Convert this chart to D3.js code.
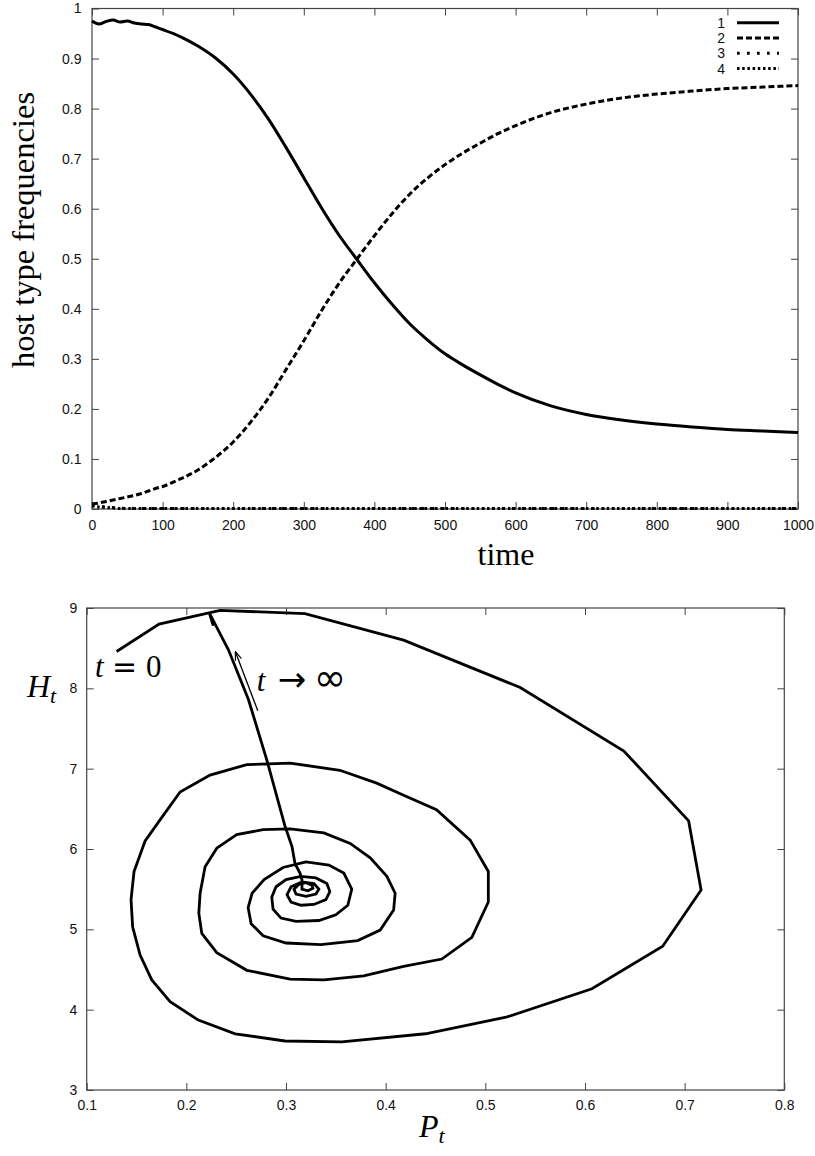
<!DOCTYPE html>
<html>
<head>
<meta charset="utf-8">
<title>host type frequencies</title>
<style>
  body { margin: 0; background: #fff; }
  svg { display: block; }
  .tick text { font: 14px "Liberation Sans", Arial, sans-serif; fill: #111; }
  .tick line { stroke: #444; stroke-width: 1; }
  .domain { display: none; }
  .frame { fill: none; stroke: #444; stroke-width: 1.2; }
  .title { font-family: "Liberation Serif", "Times New Roman", serif; fill: #000; }
  .sym { font-family: "DejaVu Sans", sans-serif; font-weight: normal; }
  .legend { font: 14px "Liberation Sans", Arial, sans-serif; fill: #111; }
  .curve { fill: none; stroke: #000; stroke-width: 3; stroke-linejoin: miter; }
</style>
</head>
<body>
<script src="https://cdn.jsdelivr.net/npm/d3@7"></script>
<script>
// ---- top panel: host type frequencies over time ----
var times = [0, 10, 20, 30, 40, 50, 60, 70, 80, 90, 100, 125, 150, 175, 200, 225, 250, 275,
             300, 325, 350, 375, 400, 425, 450, 475, 500, 525, 550, 575, 600, 650, 700, 750,
             800, 850, 900, 950, 1000];
var type1 = [0.975, 0.969, 0.974, 0.977, 0.973, 0.975, 0.971, 0.969, 0.968, 0.963, 0.958, 0.944,
             0.925, 0.901, 0.869, 0.828, 0.779, 0.722, 0.662, 0.602, 0.547, 0.499, 0.452, 0.409,
             0.370, 0.338, 0.310, 0.288, 0.268, 0.249, 0.232, 0.206, 0.189, 0.178, 0.170, 0.164,
             0.159, 0.156, 0.153];
var type2 = [0.010, 0.012, 0.015, 0.018, 0.021, 0.024, 0.027, 0.031, 0.036, 0.041, 0.045, 0.060,
             0.078, 0.103, 0.134, 0.174, 0.222, 0.279, 0.336, 0.396, 0.451, 0.499, 0.546, 0.590,
             0.629, 0.661, 0.688, 0.711, 0.731, 0.750, 0.766, 0.792, 0.809, 0.821, 0.829, 0.835,
             0.840, 0.843, 0.846];
var type3 = [0.008, 0.006, 0.004, 0.003, 0.002, 0.001, 0.001, 0.001, 0.001, 0.001, 0.001, 0.001,
             0.001, 0.001, 0.001, 0.001, 0.001, 0.001, 0.001, 0.001, 0.001, 0.001, 0.001, 0.001,
             0.001, 0.001, 0.001, 0.001, 0.001, 0.001, 0.001, 0.001, 0.001, 0.001, 0.001, 0.001,
             0.001, 0.001, 0.001];
var type4 = [0.006, 0.004, 0.003, 0.002, 0.001, 0.001, 0.001, 0.001, 0.001, 0.001, 0.001, 0.001,
             0.001, 0.001, 0.001, 0.001, 0.001, 0.001, 0.001, 0.001, 0.001, 0.001, 0.001, 0.001,
             0.001, 0.001, 0.001, 0.001, 0.001, 0.001, 0.001, 0.001, 0.001, 0.001, 0.001, 0.001,
             0.001, 0.001, 0.001];
var typeNames = ["1", "2", "3", "4"];
var timeTicks = [0, 100, 200, 300, 400, 500, 600, 700, 800, 900, 1000];
var freqTicks = [0, 0.1, 0.2, 0.3, 0.4, 0.5, 0.6, 0.7, 0.8, 0.9, 1];

// ---- bottom panel: host / parasite phase plane ----
var parasite = [0.130, 0.1726, 0.2338, 0.319, 0.418, 0.535, 0.639, 0.704, 0.7165, 0.678, 0.607,
  0.522, 0.440, 0.356, 0.299, 0.249, 0.212, 0.1837, 0.1653, 0.1536, 0.1461, 0.1445, 0.1475,
  0.1586, 0.1752, 0.1937, 0.2238, 0.2606, 0.304, 0.354, 0.391, 0.418, 0.451, 0.4848, 0.503,
  0.503, 0.4865, 0.4564, 0.418, 0.378, 0.338, 0.304, 0.2607, 0.2305, 0.2155, 0.2125, 0.2138,
  0.2188, 0.2305, 0.2505, 0.277, 0.304, 0.338, 0.3644, 0.3845, 0.4012, 0.4095, 0.408, 0.3945,
  0.372, 0.335, 0.300, 0.277, 0.265, 0.262, 0.266, 0.278, 0.297,
  0.320, 0.343, 0.358, 0.366, 0.362, 0.350, 0.333, 0.310,
  0.295, 0.287, 0.2857, 0.290, 0.300, 0.315, 0.330, 0.341, 0.344, 0.340, 0.328, 0.315,
  0.305, 0.301, 0.305, 0.316, 0.328, 0.333, 0.330, 0.320,
  0.310, 0.308, 0.313, 0.320, 0.326, 0.327, 0.322, 0.316, 0.316,
  0.316, 0.314, 0.309, 0.306, 0.2991, 0.2807, 0.2623, 0.2422, 0.2238, 0.2270, 0.2230];
var host = [8.458, 8.80, 8.97, 8.93, 8.60, 8.01, 7.22, 6.35, 5.49, 4.79, 4.26,
  3.91, 3.70, 3.60, 3.61, 3.70, 3.87, 4.10, 4.37, 4.68, 5.03, 5.37, 5.72,
  6.10, 6.39, 6.71, 6.92, 7.05, 7.07, 6.98, 6.82, 6.67, 6.49, 6.11, 5.72,
  5.34, 4.90, 4.63, 4.54, 4.42, 4.37, 4.38, 4.49, 4.71, 4.95, 5.20, 5.45,
  5.78, 6.01, 6.18, 6.24, 6.25, 6.20, 6.07, 5.89, 5.66, 5.45, 5.24, 4.99,
  4.86, 4.81, 4.83, 4.92, 5.07, 5.27, 5.45, 5.62, 5.77,
  5.84, 5.80, 5.70, 5.50, 5.30, 5.18, 5.11, 5.10,
  5.14, 5.25, 5.40, 5.53, 5.62, 5.66, 5.64, 5.57, 5.47, 5.37, 5.31, 5.30,
  5.34, 5.43, 5.53, 5.59, 5.57, 5.50, 5.44, 5.41,
  5.44, 5.50, 5.56, 5.58, 5.55, 5.51, 5.48, 5.50, 5.55,
  5.62, 5.70, 5.82, 6.03, 6.28, 7.11, 7.86, 8.48, 8.92, 8.78, 8.94];
var pTicks = [0.1, 0.2, 0.3, 0.4, 0.5, 0.6, 0.7, 0.8];
var hTicks = [3, 4, 5, 6, 7, 8, 9];
// arrow next to the escaping branch, from / to in (P, H)
var arrowFrom = [0.2717, 7.72], arrowTo = [0.2494, 8.45];

var svg = d3.select("body").append("svg")
    .attr("width", 815)
    .attr("height", 1156);

svg.append("defs").append("marker")
    .attr("id", "head")
    .attr("viewBox", "0 0 10 10")
    .attr("refX", 9).attr("refY", 5)
    .attr("markerWidth", 9).attr("markerHeight", 9)
    .attr("markerUnits", "userSpaceOnUse")
    .attr("orient", "auto")
  .append("path")
    .attr("d", "M0,1.5 L10,5 L0,8.5")
    .attr("fill", "none")
    .attr("stroke", "#000")
    .attr("stroke-width", 1.3);

// inward ticks on all four sides, the gnuplot way
function frameAxes(g, x, y, xt, yt, padX, padY) {
  var x0 = x.range()[0], x1 = x.range()[1], y0 = y.range()[0], y1 = y.range()[1];
  g.append("g").attr("transform", "translate(0," + y0 + ")")
    .call(d3.axisBottom(x).tickValues(xt).tickSize(-7).tickPadding(padX).tickFormat(String));
  g.append("g").attr("transform", "translate(0," + y1 + ")")
    .call(d3.axisTop(x).tickValues(xt).tickSize(-7).tickFormat(""));
  g.append("g").attr("transform", "translate(" + x0 + ",0)")
    .call(d3.axisLeft(y).tickValues(yt).tickSize(-7).tickPadding(padY).tickFormat(String));
  g.append("g").attr("transform", "translate(" + x1 + ",0)")
    .call(d3.axisRight(y).tickValues(yt).tickSize(-7).tickFormat(""));
  g.append("rect").attr("class", "frame")
    .attr("x", x0).attr("y", y1)
    .attr("width", x1 - x0).attr("height", y0 - y1);
}

// ---------- top ----------
var xt = d3.scaleLinear().domain([0, 1000]).range([92, 798]);
var yt = d3.scaleLinear().domain([0, 1]).range([509, 8.5]);
var upper = svg.append("g");
frameAxes(upper, xt, yt, timeTicks, freqTicks, 11, 10.5);

var dashes = [null, "6,3", "2.7,7.3", "2.5,2.7"];
var series = [type1, type2, type3, type4];
var line = d3.line()
    .x((d, i) => xt(times[i]))
    .y(d => yt(d))
    .curve(d3.curveMonotoneX);

// draw last series first so the solid line stays on top
series.slice().reverse().forEach((s, j) => {
  var i = series.length - 1 - j;
  upper.append("path")
    .attr("class", "curve")
    .attr("d", line(s))
    .attr("stroke-dasharray", dashes[i]);
});

var legend = upper.selectAll(".key")
    .data(typeNames)
  .enter().append("g")
    .attr("class", "key")
    .attr("transform", (d, i) => "translate(0," + (22.7 + i * 15.3) + ")");
legend.append("text")
    .attr("class", "legend")
    .attr("x", 725)
    .attr("dy", "0.36em")
    .attr("text-anchor", "end")
    .text(d => d);
legend.append("line")
    .attr("class", "curve")
    .attr("x1", 737).attr("x2", 779)
    .attr("stroke-dasharray", (d, i) => dashes[i]);

upper.append("text")
    .attr("class", "title")
    .attr("transform", "translate(34,230) rotate(-90)")
    .attr("text-anchor", "middle")
    .style("font-size", "32.5px")
    .text("host type frequencies");
upper.append("text")
    .attr("class", "title")
    .attr("x", 506).attr("y", 565)
    .attr("text-anchor", "middle")
    .style("font-size", "32px")
    .text("time");

// ---------- bottom ----------
var xb = d3.scaleLinear().domain([0.1, 0.8]).range([86.7, 784.3]);
var yb = d3.scaleLinear().domain([3, 9]).range([1090, 608]);
var lower = svg.append("g");
frameAxes(lower, xb, yb, pTicks, hTicks, 10, 9.5);

var phase = d3.line()
    .x(d => xb(d[0]))
    .y(d => yb(d[1]));
lower.append("path")
    .attr("class", "curve")
    .style("stroke-width", 2.8)
    .attr("d", phase(d3.zip(parasite, host)));

lower.append("line")
    .attr("x1", xb(arrowFrom[0])).attr("y1", yb(arrowFrom[1]))
    .attr("x2", xb(arrowTo[0])).attr("y2", yb(arrowTo[1]))
    .attr("stroke", "#000")
    .attr("stroke-width", 1.3)
    .attr("marker-end", "url(#head)");

// t = 0 at the start of the orbit
var t0x = xb(0.1083), t0y = yb(8.14);
var t0 = lower.append("text")
    .attr("class", "title")
    .attr("y", t0y)
    .style("font-size", "31px");
t0.append("tspan").attr("x", t0x).style("font-style", "italic").text("t");
t0.append("tspan").attr("x", t0x + 17).attr("class", "sym").style("font-size", "30px").text("=");
t0.append("tspan").attr("x", t0x + 51).text("0");

// t -> infinity next to the escaping branch
var tix = xb(0.2707), tiy = yb(7.97);
var tinf = lower.append("text")
    .attr("class", "title")
    .attr("y", tiy)
    .style("font-size", "31px");
tinf.append("tspan").attr("x", tix).style("font-style", "italic").text("t");
tinf.append("tspan").attr("x", tix + 21).attr("class", "sym").style("font-size", "34px").text("\u2192");
tinf.append("tspan").attr("x", tix + 57).attr("class", "sym").style("font-size", "39px").text("\u221e");

var hLab = lower.append("text")
    .attr("class", "title")
    .attr("x", 27).attr("y", 697)
    .style("font-size", "32px")
    .style("font-style", "italic");
hLab.append("tspan").text("H");
hLab.append("tspan").attr("dy", 6).style("font-size", "22px").text("t");

var pLab = lower.append("text")
    .attr("class", "title")
    .attr("x", 419).attr("y", 1137)
    .style("font-size", "32px")
    .style("font-style", "italic");
pLab.append("tspan").text("P");
pLab.append("tspan").attr("dy", 6).style("font-size", "22px").text("t");
</script>
</body>
</html>
